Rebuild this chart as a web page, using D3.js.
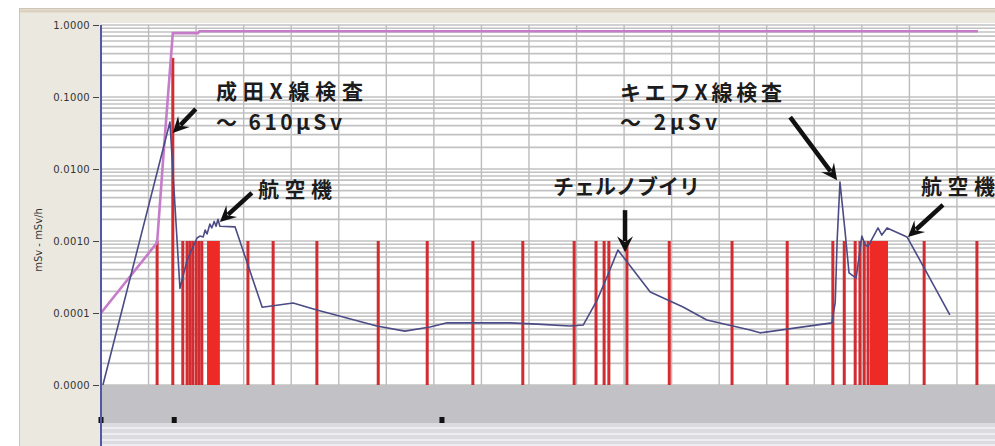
<!DOCTYPE html>
<html lang="ja">
<head>
<meta charset="utf-8">
<title>線量ログ</title>
<script src="https://cdn.jsdelivr.net/npm/d3@7"></script>
<style>
  body { margin: 0; background: #fff; }
  svg { display: block; }
</style>
</head>
<body>
<script>

// -- Data -- //

// y axis ticks (mSv, mSv/h)
const yTicks = [1, 0.1, 0.01, 0.001, 0.0001, 0.00001];

// dose rate (mSv/h) against elapsed hours
const rateHours = [0.04, 1.45, 1.66, 1.81, 2.02, 2.08, 2.15, 2.19, 2.23, 2.29, 2.33, 2.38, 2.42, 2.46, 2.50,
    2.82, 3.39, 4.04, 4.54, 5.80, 6.39, 6.92, 7.28, 8.60, 9.17, 9.86, 10.14, 10.43, 10.66, 10.87,
    11.55, 12.24, 12.74, 13.65, 13.86, 15.37, 15.44, 15.48, 15.54, 15.65, 15.73, 15.88, 16.00, 16.07,
    16.13, 16.34, 16.42, 16.53, 16.95, 17.33, 17.85];
const rateValues = [1.0e-5, 0.045, 2.2e-4, 5.4e-4, 1.1e-3, 1.17e-3, 1.14e-3, 1.42e-3, 1.25e-3, 1.72e-3, 1.52e-3, 1.87e-3, 1.6e-3, 2.0e-3, 1.6e-3,
    1.57e-3, 1.2e-4, 1.38e-4, 1.1e-4, 6.6e-5, 5.6e-5, 6.4e-5, 7.3e-5, 7.3e-5, 7.0e-5, 6.6e-5, 6.8e-5, 1.5e-4, 3.4e-4, 7.5e-4,
    1.96e-4, 1.21e-4, 8.0e-5, 5.8e-5, 5.3e-5, 7.3e-5, 1.4e-4, 1.0e-3, 6.6e-3, 1.3e-3, 3.6e-4, 3.06e-4, 1.17e-3, 8.8e-4,
    8.4e-4, 1.52e-3, 1.21e-3, 1.52e-3, 1.14e-3, 4.0e-4, 9.4e-5];

// cumulative dose (mSv)
const doseHours = [0, 1.18, 1.32, 1.51, 2.04, 2.07, 18.44];
const doseValues = [0.0001, 0.00095, 0.018, 0.77, 0.77, 0.82, 0.82];

// single pulses (hours, top value)
const pulseHours = [1.18, 1.51, 1.72, 1.81, 1.87, 1.93, 2.00, 2.06, 2.12, 3.09, 3.62, 4.54, 5.83, 6.86, 7.82,
    8.87, 9.95, 10.41, 10.58, 10.68, 11.06, 11.95, 13.27, 14.43, 15.39, 15.63, 15.86, 15.96, 16.05, 16.13,
    17.31, 18.42];
const pulseTops = [0.001, 0.35, 0.001, 0.001, 0.001, 0.001, 0.001, 0.001, 0.001, 0.001, 0.001, 0.001, 0.001, 0.001, 0.001,
    0.001, 0.001, 0.001, 0.001, 0.001, 0.001, 0.001, 0.001, 0.001, 0.001, 0.001, 0.001, 0.001, 0.001, 0.001,
    0.001, 0.001];

// continuous bursts (start, end hours)
const burstStart = [2.23, 16.17];
const burstEnd = [2.50, 16.55];
const burstTop = 0.001;

// event markers in the lower strip
const markerHours = [0, 1.54, 7.17];

// -- Setting -- //

let canvasWidth = 995;
let canvasHeight = 446;

let plotLeft = 101, plotRight = 995, plotTop = 25, plotBottom = 385;

const svg = d3.select("body")
    .append("svg")
    .attr("width", canvasWidth)
    .attr("height", canvasHeight);

const x = d3.scaleLinear()
    .domain([0, 18.8])
    .range([plotLeft, plotRight]);

const y = d3.scaleLog()
    .domain([0.00001, 1])
    .range([plotBottom, plotTop]);

// -- Frame -- //

svg.append("rect")
    .attr("x", 19.5).attr("y", 8.5)
    .attr("width", 1000).attr("height", 460)
    .attr("fill", "#ebe9df")
    .attr("stroke", "#cdc6b6");

svg.append("line")
    .attr("x1", 20).attr("x2", 995)
    .attr("y1", 11).attr("y2", 11)
    .attr("stroke", "#ddd2c0").attr("stroke-width", 3);

svg.append("rect")
    .attr("x", plotLeft).attr("y", plotTop - 2)
    .attr("width", plotRight - plotLeft).attr("height", plotBottom - plotTop + 2)
    .attr("fill", "#ffffff");

// lower strips
svg.append("rect")
    .attr("x", plotLeft).attr("y", plotBottom)
    .attr("width", plotRight - plotLeft).attr("height", 38)
    .attr("fill", "#c2c1c6");

svg.append("rect")
    .attr("x", plotLeft).attr("y", plotBottom + 38)
    .attr("width", plotRight - plotLeft).attr("height", canvasHeight - plotBottom - 38)
    .attr("fill", "#dcdce0");

svg.append("g")
    .selectAll("line")
    .data([428, 434, 440, 445])
    .join("line")
        .attr("x1", plotLeft).attr("x2", plotRight)
        .attr("y1", d => d).attr("y2", d => d)
        .attr("stroke", "#eeeef2").attr("stroke-width", 2);

// -- Grid -- //

svg.append("g")
    .selectAll("line")
    .data(y.ticks())
    .join("line")
        .attr("x1", plotLeft).attr("x2", plotRight)
        .attr("y1", d => y(d)).attr("y2", d => y(d))
        .attr("stroke", "#c2c2c2")
        .attr("stroke-width", 1.6);

svg.append("g")
    .selectAll("line")
    .data(d3.range(1, 19))
    .join("line")
        .attr("x1", d => x(d)).attr("x2", d => x(d))
        .attr("y1", plotTop).attr("y2", plotBottom)
        .attr("stroke", "#bcbcbc")
        .attr("stroke-width", 1.4);

// -- Pulses -- //

svg.append("g")
    .selectAll("rect")
    .data(pulseHours)
    .join("rect")
        .attr("x", d => x(d) - 1.5)
        .attr("width", 3)
        .attr("y", (d, i) => y(pulseTops[i]))
        .attr("height", (d, i) => plotBottom - y(pulseTops[i]))
        .attr("fill", "#d22b30");

svg.append("g")
    .selectAll("rect")
    .data(burstStart)
    .join("rect")
        .attr("x", d => x(d))
        .attr("width", (d, i) => x(burstEnd[i]) - x(d))
        .attr("y", y(burstTop))
        .attr("height", plotBottom - y(burstTop))
        .attr("fill", "#ee2a26");

// -- Lines -- //

const line = d3.line()
    .x(d => x(d[0]))
    .y(d => y(d[1]));

svg.append("path")
    .datum(doseHours.map((h, i) => [h, doseValues[i]]))
    .attr("d", line)
    .attr("fill", "none")
    .attr("stroke", "#c67cc9")
    .attr("stroke-width", 2.6);

svg.append("path")
    .datum(rateHours.map((h, i) => [h, rateValues[i]]))
    .attr("d", line)
    .attr("fill", "none")
    .attr("stroke", "#4b4b86")
    .attr("stroke-width", 1.6)
    .attr("stroke-linejoin", "round");

// -- Markers -- //

svg.append("g")
    .selectAll("rect")
    .data(markerHours)
    .join("rect")
        .attr("x", d => x(d) - 2.5)
        .attr("y", 417)
        .attr("width", 5).attr("height", 6)
        .attr("fill", "#111");

// -- Axis -- //

svg.append("line")
    .attr("x1", plotLeft).attr("x2", plotLeft)
    .attr("y1", plotTop).attr("y2", canvasHeight)
    .attr("stroke", "#5656a6")
    .attr("stroke-width", 2);

const yAxis = svg.append("g")
    .attr("transform", `translate(${plotLeft - 2},0)`)
    .call(d3.axisLeft(y).tickValues(yTicks).tickFormat(d3.format(".4f")).tickSize(6).tickPadding(3));

yAxis.select(".domain").remove();
yAxis.selectAll(".tick line").attr("stroke", "#444");
yAxis.selectAll(".tick text")
    .attr("fill", "#333")
    .attr("font-family", "DejaVu Sans, sans-serif")
    .attr("font-size", 10)
    .attr("letter-spacing", 0.3);

svg.append("text")
    .attr("transform", "translate(42,240) rotate(-90)")
    .attr("text-anchor", "middle")
    .attr("font-family", "DejaVu Sans, sans-serif")
    .attr("font-size", 10)
    .attr("fill", "#333")
    .text("mSv - mSv/h");

// -- Annotations -- //

const notes = [
    { lines: ["成田X線検査", "～ 610μSv"], x: 216, y: [99, 130], len: [147, 126] },
    { lines: ["航空機"], x: 258, y: [197], len: [74] },
    { lines: ["チェルノブイリ"], x: 553, y: [194], len: [147] },
    { lines: ["キエフX線検査", "～ 2μSv"], x: 620, y: [100, 130], len: [162, 97] },
    { lines: ["航空機"], x: 921, y: [194], len: [74] }
];

// arrow tip on the data, tail offset in pixels
const arrows = [
    { h: 1.51, v: 0.0316, dx: 23, dy: -24 },
    { h: 2.50, v: 0.00184, dx: 32, dy: -29 },
    { h: 11.02, v: 0.0007, dx: 0, dy: -42 },
    { h: 15.48, v: 0.007, dx: -47, dy: -63 },
    { h: 16.97, v: 0.00114, dx: 35, dy: -32 }
];

notes.forEach(function(n) {
    n.lines.forEach(function(t, i) {
        svg.append("text")
            .attr("x", n.x)
            .attr("y", n.y[i])
            .attr("font-family", "'Noto Sans CJK JP', sans-serif")
            .attr("font-weight", 700)
            .attr("font-size", 21)
            .attr("fill", "#1c1c1c")
            .attr("textLength", n.len[i])
            .attr("lengthAdjust", "spacing")
            .text(t);
    });
});

arrows.forEach(function(a) {
    let tx = x(a.h), ty = y(a.v);
    let sx = tx + a.dx, sy = ty + a.dy;
    let ang = Math.atan2(ty - sy, tx - sx);
    let c = Math.cos(ang), s = Math.sin(ang);
    let hl = 14, hw = 8;
    let bx = tx - hl * c, by = ty - hl * s;
    svg.append("line")
        .attr("x1", sx).attr("y1", sy)
        .attr("x2", bx + 3 * c).attr("y2", by + 3 * s)
        .attr("stroke", "#111")
        .attr("stroke-width", 4.5);
    let pts = [
        [tx, ty],
        [bx - hw * s - 2 * c, by + hw * c - 2 * s],
        [bx + 4 * c, by + 4 * s],
        [bx + hw * s - 2 * c, by - hw * c - 2 * s]
    ];
    svg.append("polygon")
        .attr("points", pts.map(p => p.join(",")).join(" "))
        .attr("fill", "#111");
});

</script>
</body>
</html>
